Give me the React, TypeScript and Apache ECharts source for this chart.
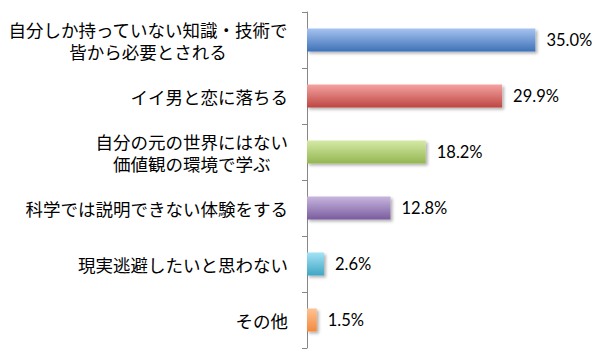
import React, { useEffect, useRef } from "react";
import * as echarts from "echarts";

const categories = [
  "自分しか持っていない知識・技術で\n皆から必要とされる",
  "イイ男と恋に落ちる",
  "自分の元の世界にはない\n価値観の環境で学ぶ",
  "科学では説明できない体験をする",
  "現実逃避したいと思わない",
  "その他",
];
const values = [35.0, 29.9, 18.2, 12.8, 2.6, 1.5];
const topColors = ["#a7c3f0", "#f4a3a1", "#d5eaa6", "#c7b6df", "#a3e3f6", "#fdc394"];
const bottomColors = ["#3e72b7", "#bd4642", "#94b651", "#7a5c9e", "#3fa6c3", "#f5893c"];

export default function App() {
  const ref = useRef<HTMLDivElement>(null);
  useEffect(() => {
    if (!ref.current) return;
    const chart = echarts.init(ref.current, null, { renderer: "svg" });
    chart.setOption({
      animation: false,
      backgroundColor: "#ffffff",
      grid: { left: 307, top: 12, bottom: 14, right: 32, containLabel: false },
      xAxis: {
        type: "value",
        min: 0,
        max: 40,
        show: false,
      },
      yAxis: {
        type: "category",
        inverse: true,
        data: categories,
        axisLine: { show: true, lineStyle: { color: "#868686", width: 1 } },
        axisTick: { show: true, length: 5, lineStyle: { color: "#868686" } },
        axisLabel: {
          margin: 19,
          color: "#000000",
          fontFamily: "'Noto Sans CJK JP', sans-serif",
          fontSize: 17.5,
          lineHeight: 22,
          formatter: (v: string) => {
            if (v.indexOf("\n") >= 0) {
              return v
                .split("\n")
                .map((l) => "{c|" + l + "}")
                .join("\n");
            }
            return v;
          },
          rich: {
            c: {
              align: "center",
              fontFamily: "'Noto Sans CJK JP', sans-serif",
              fontSize: 17.5,
              lineHeight: 22,
              color: "#000000",
            },
          },
        },
      },
      series: [
        {
          type: "bar",
          barWidth: 23,
          data: values.map((v, i) => ({
            value: v,
            itemStyle: {
              color: new echarts.graphic.LinearGradient(0, 0, 0, 1, [
                { offset: 0, color: topColors[i] },
                { offset: 1, color: bottomColors[i] },
              ]),
              shadowColor: "rgba(0,0,0,0.3)",
              shadowBlur: 3,
              shadowOffsetX: 2,
              shadowOffsetY: 2,
            },
          })),
          label: {
            show: true,
            position: "right",
            distance: 11,
            color: "#000000",
            fontFamily: "Lato, sans-serif",
            fontSize: 16.5,
            formatter: (p: any) => p.value.toFixed(1) + "%",
          },
        },
      ],
    });
    return () => chart.dispose();
  }, []);
  return <div ref={ref} style={{ width: 600, height: 362, position: "absolute", left: 0, top: 0 }} />;
}
